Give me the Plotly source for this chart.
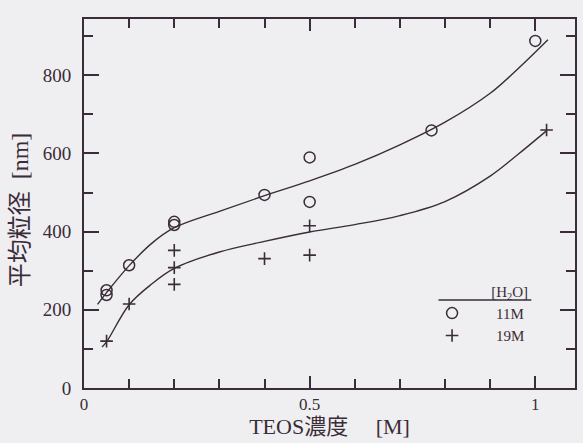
import plotly.graph_objects as go

# --- data ---
# measured points, [H2O] = 11M (open circles)
x_11m = [0.05, 0.05, 0.10, 0.20, 0.20, 0.40, 0.50, 0.50, 0.77, 1.00]
y_11m = [238, 250, 314, 417, 425, 494, 590, 476, 659, 888]

# measured points, [H2O] = 19M (plus signs)
x_19m = [0.05, 0.10, 0.20, 0.20, 0.20, 0.40, 0.50, 0.50, 1.025]
y_19m = [120, 215, 352, 308, 265, 331, 415, 340, 660]

# fitted curves
curve_11m_x = [0.03, 0.05, 0.10, 0.15, 0.20, 0.30, 0.40, 0.50, 0.60, 0.70, 0.80, 0.90, 0.96, 1.028]
curve_11m_y = [214, 244, 313, 370, 410, 452, 492, 530, 572, 622, 680, 754, 815, 891]

curve_19m_x = [0.04, 0.05, 0.10, 0.15, 0.20, 0.30, 0.40, 0.50, 0.60, 0.70, 0.80, 0.90, 0.96, 1.026]
curve_19m_y = [105, 118, 213, 266, 306, 348, 375, 399, 418, 441, 477, 542, 596, 659]

series_names = ["11M", "19M"]
legend_title = "[H<sub>2</sub>O]"
x_title = "TEOS濃度\u00a0\u00a0\u00a0\u00a0\u00a0[M]"
y_title = "平均粒径\u00a0\u00a0[nm]"
x_tickvals = [0, 0.5, 1]
x_ticktext = ["0", "0.5", "1"]
y_tickvals = [0, 200, 400, 600, 800]

INK = "#3a2c38"
BG = "#efeff1"
SERIF = "Liberation Serif, Noto Sans CJK JP, serif"

fig = go.Figure()

for cx, cy in [(curve_11m_x, curve_11m_y), (curve_19m_x, curve_19m_y)]:
    fig.add_trace(go.Scatter(x=cx, y=cy, mode="lines",
                             line=dict(color=INK, width=1.4, shape="spline", smoothing=1.0),
                             showlegend=False, hoverinfo="skip"))

fig.add_trace(go.Scatter(x=x_11m, y=y_11m, mode="markers", name=series_names[0],
                         marker=dict(symbol="circle-open", size=11, color=INK,
                                     line=dict(color=INK, width=1.5))))
fig.add_trace(go.Scatter(x=x_19m, y=y_19m, mode="markers", name=series_names[1],
                         marker=dict(symbol="cross-thin-open", size=9, color=INK,
                                     line=dict(color=INK, width=1.6))))

fig.update_layout(
    width=583, height=443,
    margin=dict(l=84, r=6, t=19, b=55),
    paper_bgcolor=BG, plot_bgcolor=BG,
    font=dict(family=SERIF, color=INK, size=16),
    showlegend=True,
    legend=dict(
        title=dict(text=legend_title, side="top right", font=dict(size=15, family=SERIF, color=INK)),
        x=0.66, y=0.300, xanchor="left", yanchor="top",
        bgcolor="rgba(0,0,0,0)", borderwidth=0,
        itemwidth=78, font=dict(size=15, family=SERIF, color=INK),
        tracegroupgap=0,
    ),
)

fig.update_xaxes(
    range=[0, 1.088], showgrid=False, zeroline=False,
    showline=True, linecolor=INK, linewidth=2, mirror="ticks",
    ticks="inside", ticklen=12, tickwidth=1.5, tickcolor=INK,
    tickvals=x_tickvals, ticktext=x_ticktext,
    tickfont=dict(size=17, family=SERIF, color=INK),
    minor=dict(dtick=0.1, ticks="inside", ticklen=9, tickwidth=1.5, tickcolor=INK, showgrid=False),
    title=dict(text=x_title, font=dict(size=22, family=SERIF, color=INK), standoff=4),
)
fig.update_yaxes(
    range=[0, 944], showgrid=False, zeroline=False,
    showline=True, linecolor=INK, linewidth=2, mirror="ticks",
    ticks="inside", ticklen=15, tickwidth=1.5, tickcolor=INK,
    tickvals=y_tickvals, ticklabelstandoff=7,
    tickfont=dict(size=19, family=SERIF, color=INK),
    minor=dict(dtick=100, ticks="inside", ticklen=9, tickwidth=1.5, tickcolor=INK, showgrid=False),
)

# y-axis title placed as rotated text left of the tick labels
fig.add_annotation(text=y_title, xref="paper", yref="paper",
                   x=-0.13, y=0.482, xanchor="center", yanchor="middle",
                   textangle=-90, showarrow=False,
                   font=dict(size=24, family=SERIF, color=INK))

# underline below the legend title
fig.add_shape(type="line", xref="paper", yref="paper",
              x0=0.722, x1=0.911, y0=0.2385, y1=0.2385,
              line=dict(color=INK, width=1.5))

fig.write_html(
    "out.html",
    config={"displayModeBar": False},
    post_script="document.body.style.margin='0';document.body.style.background='" + BG + "';",
)
